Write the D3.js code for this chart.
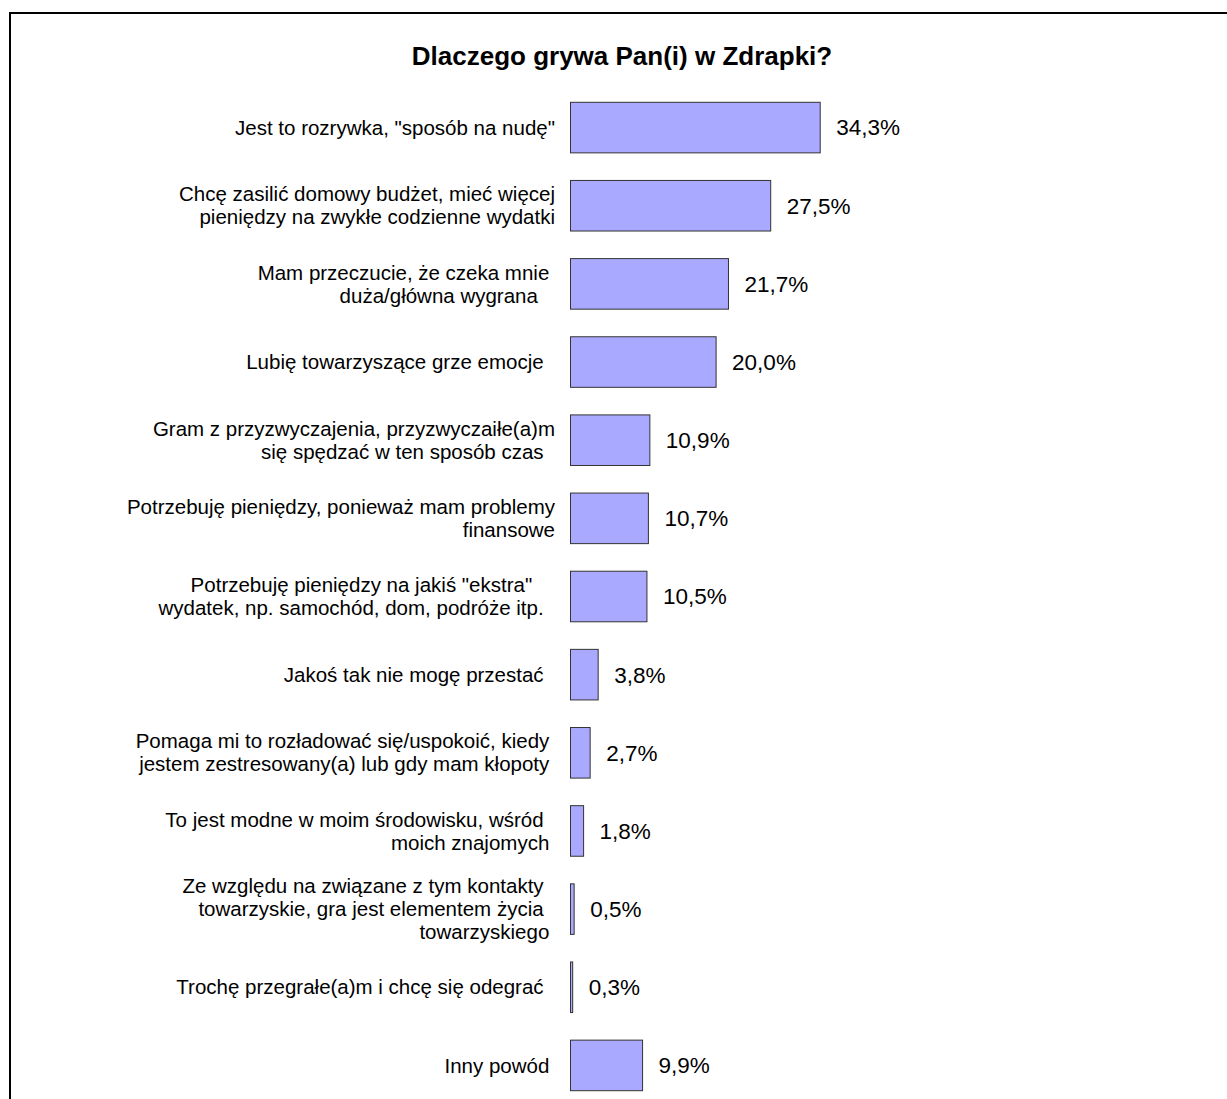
<!DOCTYPE html>
<html>
<head>
<meta charset="utf-8">
<script src="https://cdn.jsdelivr.net/npm/d3@7"></script>
<style>
  html, body { margin: 0; padding: 0; background: #ffffff; }
  svg { display: block; }
  text { font-family: "Liberation Sans", Arial, sans-serif; fill: #000; white-space: pre; }
</style>
</head>
<body>
<script>
// Survey answers (lines of each wrapped label, trailing spaces kept as in the source)
const categories = [
  ["Jest to rozrywka, \"sposób na nudę\""],
  ["Chcę zasilić domowy budżet, mieć więcej", "pieniędzy na zwykłe codzienne wydatki"],
  ["Mam przeczucie, że czeka mnie ", "duża/główna wygrana   "],
  ["Lubię towarzyszące grze emocje  "],
  ["Gram z przyzwyczajenia, przyzwyczaiłe(a)m", "się spędzać w ten sposób czas  "],
  ["Potrzebuję pieniędzy, ponieważ mam problemy", "finansowe"],
  ["Potrzebuję pieniędzy na jakiś \"ekstra\"    ", "wydatek, np. samochód, dom, podróże itp.  "],
  ["Jakoś tak nie mogę przestać  "],
  ["Pomaga mi to rozładować się/uspokoić, kiedy ", "jestem zestresowany(a) lub gdy mam kłopoty "],
  ["To jest modne w moim środowisku, wśród  ", "moich znajomych "],
  ["Ze względu na związane z tym kontakty  ", "towarzyskie, gra jest elementem życia  ", "towarzyskiego "],
  ["Trochę przegrałe(a)m i chcę się odegrać  "],
  ["Inny powód "]
];
const values = [34.3, 27.5, 21.7, 20.0, 10.9, 10.7, 10.5, 3.8, 2.7, 1.8, 0.5, 0.3, 9.9];
const title = "Dlaczego grywa Pan(i) w Zdrapki?";

const W = 1227, H = 1099;
const svg = d3.select("body").append("svg").attr("width", W).attr("height", H);

svg.append("rect").attr("width", W).attr("height", H).attr("fill", "#fff");

// chart frame (runs past the right and bottom edges)
svg.append("rect")
  .attr("x", 10).attr("y", 13)
  .attr("width", 1400).attr("height", 1300)
  .attr("fill", "none").attr("stroke", "#000").attr("stroke-width", 2);

svg.append("text")
  .attr("x", 622).attr("y", 65)
  .attr("text-anchor", "middle")
  .attr("font-size", 26).attr("font-weight", "bold")
  .text(title);

const idx = d3.range(values.length);
const x = d3.scaleLinear().domain([0, 100]).range([570.5, 570.5 + 728]);
const y = d3.scaleBand().domain(idx).range([102.3, 1090.7]).paddingInner(0.353).paddingOuter(0);

const row = svg.append("g").selectAll("g").data(idx).join("g");

row.append("rect")
  .attr("x", x(0))
  .attr("y", i => y(i))
  .attr("width", i => x(values[i]) - x(0))
  .attr("height", y.bandwidth())
  .attr("fill", "#a9a9ff")
  .attr("stroke", "#333")
  .attr("stroke-width", 1);

row.append("text")
  .attr("x", i => x(values[i]) + 16)
  .attr("y", i => y(i) + y.bandwidth() / 2)
  .attr("dy", "0.35em")
  .attr("font-size", 22.5)
  .text(i => values[i].toFixed(1).replace(".", ",") + "%");

const lineH = 23;
row.append("text")
  .attr("text-anchor", "end")
  .attr("font-size", 20.5)
  .each(function(i) {
    const lines = categories[i];
    const cy = y(i) + y.bandwidth() / 2;
    const t = d3.select(this);
    lines.forEach((ln, k) => {
      t.append("tspan")
        .attr("x", 555)
        .attr("y", cy + (k - (lines.length - 1) / 2) * lineH)
        .attr("dy", "0.35em")
        .text(ln);
    });
  });
</script>
</body>
</html>
